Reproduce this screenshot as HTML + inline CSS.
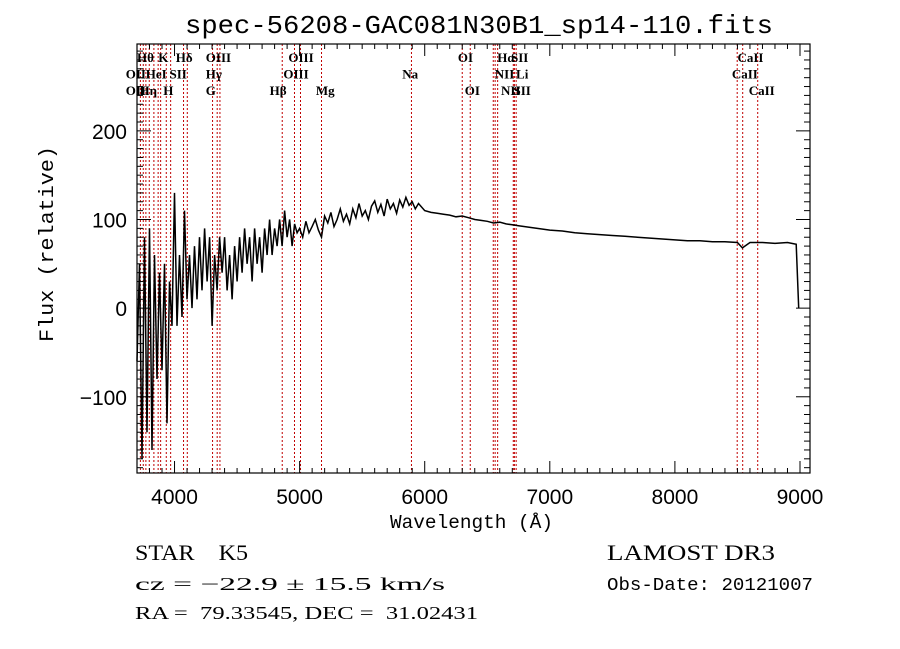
<!DOCTYPE html>
<html><head><meta charset="utf-8"><style>
html,body{margin:0;padding:0;background:#fff;}
svg{display:block;}
text{white-space:pre;}
</style></head><body>
<svg id="chart" width="900" height="649" viewBox="0 0 900 649" xmlns="http://www.w3.org/2000/svg">
<rect x="0" y="0" width="900" height="649" fill="#fff"/>
<text x="185" y="33" textLength="588" lengthAdjust="spacingAndGlyphs" font-family="Liberation Mono, monospace" font-size="26" fill="#000">spec-56208-GAC081N30B1_sp14-110.fits</text>
<g id="lines"></g>
<g id="labels"></g>
<g id="series"></g>
<g id="axes"></g>
<text x="390" y="528" textLength="163" lengthAdjust="spacingAndGlyphs" font-family="Liberation Mono, monospace" font-size="19" fill="#000">Wavelength (Å)</text>
<text transform="translate(53,244) rotate(-90)" text-anchor="middle" textLength="196" lengthAdjust="spacingAndGlyphs" font-family="Liberation Mono, monospace" font-size="20" fill="#000">Flux (relative)</text>
<text x="135" y="560" textLength="113" lengthAdjust="spacingAndGlyphs" font-family="Liberation Serif, serif" font-size="22" fill="#000">STAR    K5</text>
<text x="135" y="590" textLength="310" lengthAdjust="spacingAndGlyphs" font-family="Liberation Serif, serif" font-size="18" fill="#000">cz = −22.9 ± 15.5 km/s</text>
<text x="135" y="619" textLength="343" lengthAdjust="spacingAndGlyphs" font-family="Liberation Serif, serif" font-size="18" fill="#000">RA =  79.33545, DEC =  31.02431</text>
<text x="607" y="560" textLength="168" lengthAdjust="spacingAndGlyphs" font-family="Liberation Serif, serif" font-size="22" fill="#000">LAMOST DR3</text>
<text x="607" y="590" textLength="206" lengthAdjust="spacingAndGlyphs" font-family="Liberation Mono, monospace" font-size="18" fill="#000">Obs-Date: 20121007</text>
</svg>
<script>
const waves = [3700,3720,3740,3760,3780,3800,3820,3840,3860,3880,3900,3920,3940,3960,3980,4000,4020,4040,4060,4080,4100,4120,4140,4160,4180,4200,4220,4240,4260,4280,4300,4320,4340,4360,4380,4400,4420,4440,4460,4480,4500,4520,4540,4560,4580,4600,4620,4640,4660,4680,4700,4720,4740,4760,4780,4800,4820,4840,4860,4880,4900,4920,4940,4960,4980,5000,
5025,5050,5075,5100,5125,5150,5175,5200,5225,5250,5275,5300,5325,5350,5375,5400,5425,5450,5475,5500,5525,5550,5575,5600,5625,5650,5675,5700,5725,5750,5775,5800,5825,5850,5875,5900,5925,5950,6000,6050,6100,6150,6200,6250,6300,6350,6400,6450,6500,6550,6600,6650,6700,6750,6800,6850,6900,6950,7000,7100,7200,7300,7400,7500,7600,7700,7800,7900,8000,8100,8200,8300,8400,8500,8540,8600,8700,8800,8900,8970,8990];
const flux = [-60,50,-170,80,-140,90,-160,60,-80,40,-70,50,-130,30,-20,130,-20,60,-10,110,10,60,0,70,10,80,20,90,30,80,-20,60,20,80,40,80,20,60,10,70,30,80,40,90,50,80,30,90,50,80,40,90,60,100,60,90,70,100,70,110,80,100,70,95,85,90,
80,98,85,92,100,88,80,104,96,108,92,100,112,98,106,95,112,102,118,104,110,100,115,121,108,117,104,123,112,118,107,122,114,125,116,120,112,118,110,108,107,106,105,103,104,102,100,99,98,96,97,95,94,93,92,91,90,89,88,87,85,84,83,82,81,80,79,78,77,76,76,75,75,74,68,74,74,73,74,72,0];
const lineWaves = [3727,3750,3771,3798,3835,3869,3889,3934,3969,4072,4102,4304,4341,4363,4861,4959,5007,5175,5894,6300,6364,6548,6563,6583,6708,6717,6731,8498,8542,8662];
const labelText = ["Hθ","K","Hδ","OIII","OIII","OI","Hα","SII","CaII","OII","HeI","SII","Hγ","OIII","Na","NII","Li","CaII","OII","Hη","H","G","Hβ","Mg","OI","NII","SII","CaII"];
const labelRow = [0,0,0,0,0,0,0,0,0,1,1,1,1,1,1,1,1,1,2,2,2,2,2,2,2,2,2,2];
const labelWave = [3700,3870,4010,4250,4910,6265,6580,6690,8500,3610,3770,3960,4250,4870,5820,6560,6730,8455,3610,3720,3910,4250,4760,5130,6320,6610,6710,8590];
const xTicks = [4000,5000,6000,7000,8000,9000];
const yTicks = [-100,0,100,200];

const L=137,R=810,T=44,B=473;
const XMIN=3700,XMAX=9080,YMIN=-186,YMAX=298;
const sx=v=>L+(v-XMIN)/(XMAX-XMIN)*(R-L);
const sy=v=>B-(v-YMIN)/(YMAX-YMIN)*(B-T);
const NS="http://www.w3.org/2000/svg";
function mk(tag,attrs,parent){const e=document.createElementNS(NS,tag);for(const k in attrs)e.setAttribute(k,attrs[k]);parent.appendChild(e);return e;}

const gl=document.getElementById('lines');
lineWaves.forEach(w=>{
  const l=mk('line',{x1:sx(w),x2:sx(w),y1:T,y2:B,stroke:'#c00000','stroke-width':1,'stroke-dasharray':'2,2'},gl);
  
  
});
const glab=document.getElementById('labels');
labelText.forEach((t,i)=>{
  const e=mk('text',{x:sx(labelWave[i]),y:62+labelRow[i]*16.5,'font-family':'Liberation Serif, serif','font-size':13,'font-weight':'bold',fill:'#000'},glab);
  e.textContent=t;
  
  
});
const gs=document.getElementById('series');
const p=mk('polyline',{points:waves.map((w,i)=>sx(w).toFixed(1)+','+sy(flux[i]).toFixed(1)).join(' '),fill:'none',stroke:'#000','stroke-width':1.5},gs);



const ga=document.getElementById('axes');
const fr=mk('rect',{x:L,y:T,width:R-L,height:B-T,fill:'none',stroke:'#000','stroke-width':1.2},ga);


for(let w=3700;w<=XMAX;w+=100){
  const maj=w%1000===0, len=maj?12:5;
  mk('line',{x1:sx(w),x2:sx(w),y1:B,y2:B-len,stroke:'#000'},ga);
  mk('line',{x1:sx(w),x2:sx(w),y1:T,y2:T+len,stroke:'#000'},ga);
}
for(let v=-180;v<=YMAX;v+=10){
  const maj=v%100===0, len=maj?14:6;
  mk('line',{x1:L,x2:L+len,y1:sy(v),y2:sy(v),stroke:'#000'},ga);
  mk('line',{x1:R,x2:R-len,y1:sy(v),y2:sy(v),stroke:'#000'},ga);
}
xTicks.forEach(v=>{
  const e=mk('text',{x:sx(v),y:504,'text-anchor':'middle','font-family':'Liberation Sans, sans-serif','font-size':21,fill:'#000'},ga);
  e.textContent=String(v);
  
  
});
yTicks.forEach(v=>{
  const e=mk('text',{x:127,y:sy(v)+8,'text-anchor':'end','font-family':'Liberation Sans, sans-serif','font-size':21,fill:'#000'},ga);
  e.textContent=v<0?'−'+Math.abs(v):String(v);
  
  
});
</script>
</body></html>
